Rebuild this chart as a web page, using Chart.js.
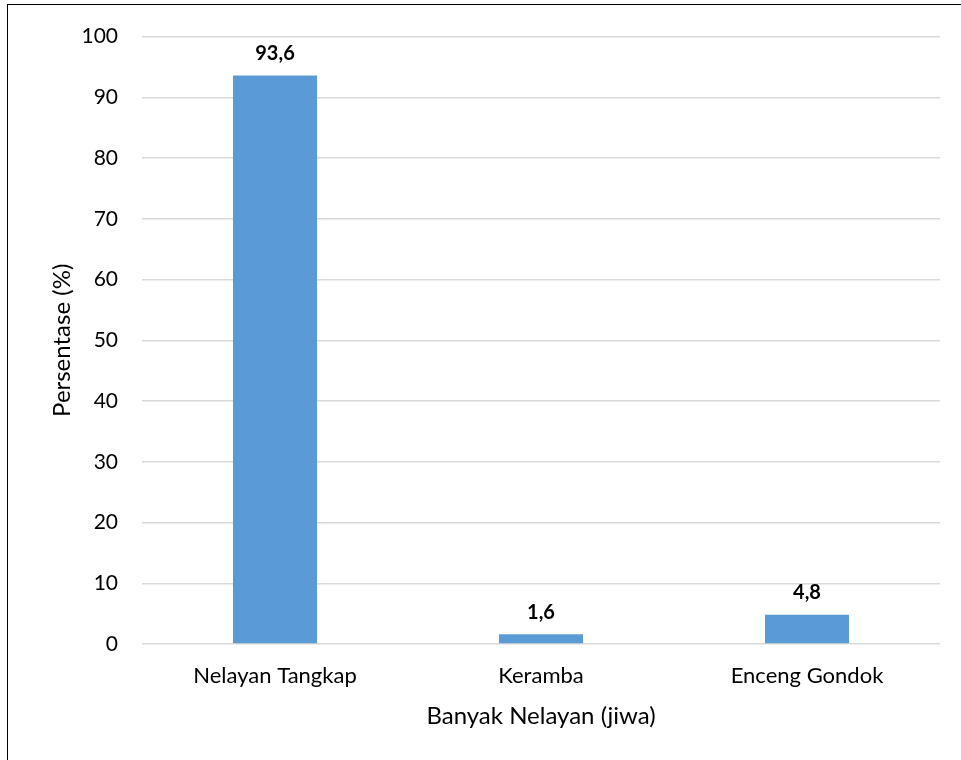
<!DOCTYPE html>
<html><head><meta charset="utf-8">
<script src="https://cdn.jsdelivr.net/npm/chart.js@4/dist/chart.umd.min.js"></script>
<style>
html,body{margin:0;padding:0;background:#fff;}
#wrap{position:absolute;left:0;top:0;width:961px;height:760px;}
#frame{position:absolute;left:7px;top:4px;width:960px;height:760px;border-left:1.5px solid #000;border-top:1.5px solid #000;box-sizing:border-box;pointer-events:none;}
</style></head>
<body>
<div id="wrap"><canvas id="c" width="961" height="760"></canvas></div>
<div id="frame"></div>
<script>
const categories = ["Nelayan Tangkap", "Keramba", "Enceng Gondok"];
const values = [93.6, 1.6, 4.8];
const valueLabels = ["93,6", "1,6", "4,8"];
const yTicks = [0, 10, 20, 30, 40, 50, 60, 70, 80, 90, 100];

const FONT = "Lato, 'Open Sans', sans-serif";

const labelPlugin = {
  id: 'vlabels',
  afterDatasetsDraw(chart) {
    const ctx = chart.ctx;
    const meta = chart.getDatasetMeta(0);
    ctx.save();
    ctx.font = "bold 20px " + FONT;
    ctx.fillStyle = "#000";
    ctx.textAlign = "center";
    ctx.textBaseline = "bottom";
    meta.data.forEach((bar, i) => {
      ctx.fillText(valueLabels[i], bar.x, bar.y - 12);
    });
    ctx.restore();
  }
};

new Chart(document.getElementById('c'), {
  type: 'bar',
  data: {
    labels: categories,
    datasets: [{
      data: values,
      backgroundColor: '#5b9bd5',
      borderWidth: 0,
      categoryPercentage: 1,
      barPercentage: 0.316
    }]
  },
  options: {
    responsive: false,
    animation: false,
    devicePixelRatio: 1,
    layout: { padding: { left: 0, top: 36, right: 21, bottom: 0 } },
    plugins: { legend: { display: false }, tooltip: { enabled: false } },
    scales: {
      x: {
        grid: { display: false, drawTicks: false },
        border: { display: false },
        ticks: { color: '#000', font: { family: FONT, size: 22 }, padding: 19, maxRotation: 0 },
        title: { display: true, text: 'Banyak Nelayan (jiwa)', color: '#000', font: { family: FONT, size: 24 }, padding: { top: 0, bottom: 29 } },
        afterFit(scale) { scale.height = 116; }
      },
      y: {
        min: 0, max: 100,
        afterBuildTicks(scale) { scale.ticks = yTicks.map(v => ({ value: v })); },
        grid: { color: '#d9d9d9', lineWidth: 1.5, drawTicks: false },
        border: { display: false },
        ticks: { color: '#000', font: { family: FONT, size: 21 }, padding: 24 },
        title: { display: true, text: 'Persentase (%)', color: '#000', font: { family: FONT, size: 24 }, padding: { top: 48, bottom: 0 } },
        afterFit(scale) { scale.width = 142; }
      }
    }
  },
  plugins: [labelPlugin]
});
</script>
</body></html>
